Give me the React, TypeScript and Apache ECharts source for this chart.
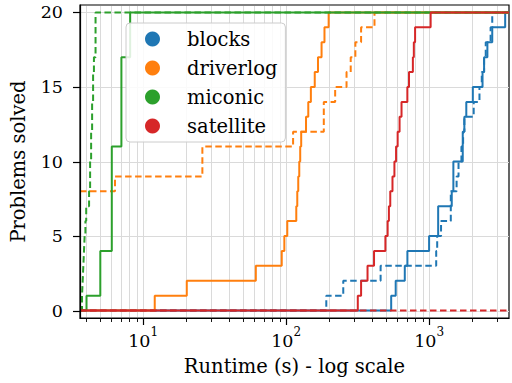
import React, { useEffect, useRef } from "react";
import * as echarts from "echarts";

const FONT = "'DejaVu Serif', serif";
const X_MIN = 3.62;
const X_MAX = 3620;
const Y_MIN = -0.5;
const Y_MAX = 20.5;

const domains = ["blocks", "driverlog", "miconic", "satellite"];
const colors = ["#1f77b4", "#ff7f0e", "#2ca02c", "#d62728"];

// x gridline / tick positions (log scale)
const xMajorTicks = [10, 100, 1000];
const xMinorTicks = [4, 5, 6, 7, 8, 9, 20, 30, 40, 50, 60, 70, 80, 90, 200, 300, 400, 500, 600, 700, 800, 900, 2000, 3000];
const yTicks = [0, 5, 10, 15, 20];

// blocks
const blocksSolidTime = [543, 584, 676, 705, 1000, 1157, 1440, 1478, 1719, 1764, 1820, 2022, 2364, 2424, 2556, 2764, 3404];
const blocksSolidCount = [1, 2, 3, 4, 5, 7, 8, 10, 12, 13, 14, 15, 16, 17, 18, 19, 20];
const blocksDashedTime = [191, 251, 458, 1121, 1139, 1212, 1418, 1557, 1606, 1683, 1729, 1764, 2050, 2250, 2335, 2424, 2489, 2692, 2764];
const blocksDashedCount = [1, 2, 3, 4, 5, 6, 8, 9, 10, 11, 12, 13, 14, 15, 16, 17, 18, 19, 20];

// driverlog
const driverlogSolidTime = [12.06, 20.2, 61.4, 93.2, 97.2, 101.9, 117.8, 119.7, 121.6, 123.6, 125.5, 127.5, 137.8, 142.9, 149.0, 158.6, 167.1, 177.0, 185.5, 198.4];
const driverlogSolidCount = [1, 2, 3, 4, 5, 6, 7, 8, 9, 10, 11, 12, 13, 14, 15, 16, 17, 18, 19, 20];
const driverlogDashedStart = 8;
const driverlogDashedTime = [6.36, 25.97, 111.9, 183.5, 220.3, 264.6, 283, 305, 334.5, 415];
const driverlogDashedCount = [9, 11, 12, 14, 15, 16, 17, 18, 19, 20];

// miconic
const miconicSolidTime = [4.02, 5.02, 6.04, 7.05, 8.12];
const miconicSolidCount = [1, 4, 11, 17, 20];
const miconicDashedTime = [3.74, 3.78, 3.82, 3.86, 3.9, 3.95, 4.0, 4.19, 4.26, 4.33, 4.4, 4.47, 4.53, 4.65];
const miconicDashedCount = [1, 2, 3, 4, 5, 6, 7, 8, 10, 12, 14, 16, 17, 20];

// satellite
const satelliteSolidTime = [317.2, 334.5, 371, 412, 494.7, 512.9, 523.4, 535, 554.5, 572, 587.5, 602.6, 621.6, 641.4, 704.5, 723.5, 770, 782, 798, 1025];
const satelliteSolidCount = [1, 2, 3, 4, 5, 6, 7, 8, 9, 10, 11, 12, 13, 14, 15, 16, 17, 18, 19, 20];
const satelliteDashedTime: number[] = [];
const satelliteDashedCount: number[] = [];

function steps(times: number[], counts: number[], start = 0) {
  const pts: number[][] = [[X_MIN, start]];
  times.forEach((t, i) => pts.push([t, counts[i]]));
  const last = counts.length ? counts[counts.length - 1] : start;
  pts.push([X_MAX, last]);
  return pts;
}

const runs = [
  { d: 0, solid: steps(blocksSolidTime, blocksSolidCount), dashed: steps(blocksDashedTime, blocksDashedCount) },
  { d: 1, solid: steps(driverlogSolidTime, driverlogSolidCount), dashed: steps(driverlogDashedTime, driverlogDashedCount, driverlogDashedStart) },
  { d: 2, solid: steps(miconicSolidTime, miconicSolidCount), dashed: steps(miconicDashedTime, miconicDashedCount) },
  { d: 3, solid: steps(satelliteSolidTime, satelliteSolidCount), dashed: steps(satelliteDashedTime, satelliteDashedCount) },
];

export default function App() {
  const ref = useRef<HTMLDivElement>(null);
  useEffect(() => {
    if (!ref.current) return;
    const chart = echarts.init(ref.current, null, { renderer: "svg" });

    const lineSeries: any[] = [];
    runs.forEach((r) => {
      [false, true].forEach((dashed) => {
        lineSeries.push({
          type: "line",
          name: domains[r.d],
          data: dashed ? r.dashed : r.solid,
          step: "end",
          symbol: "none",
          color: colors[r.d],
          lineStyle: { color: colors[r.d], width: 2, type: dashed ? [6.5, 3.5] : "solid" },
          emphasis: { disabled: true },
          silent: true,
          z: 3,
        });
      });
    });

    const xGridData = [
      ...xMajorTicks.map((v) => [v, 1]),
      ...xMinorTicks.map((v) => [v, 0]),
    ];

    const option: any = {
      animation: false,
      backgroundColor: "#fff",
      grid: {
        left: 72,
        top: 5,
        width: 442,
        height: 313,
        show: true,
        borderColor: "#000",
        borderWidth: 1.2,
      },
      legend: {
        data: domains.map((name) => ({ name, icon: "circle" })),
        orient: "vertical",
        left: 126,
        top: 23,
        padding: [6, 8, 6, 19],
        itemWidth: 15,
        itemHeight: 15,
        itemGap: 9,
        selectedMode: false,
        backgroundColor: "rgba(255,255,255,0.85)",
        borderColor: "#cccccc",
        borderWidth: 1,
        borderRadius: 4,
        itemStyle: { borderWidth: 0 },
        textStyle: {
          fontFamily: FONT,
          fontSize: 19.5,
          lineHeight: 20,
          color: "#000",
          padding: [0, 0, 0, 22],
        },
        z: 10,
      },
      xAxis: {
        type: "log",
        logBase: 10,
        min: X_MIN,
        max: X_MAX,
        z: 5,
        axisLine: { onZero: false, lineStyle: { color: "#000", width: 1.2 } },
        axisTick: { show: false },
        splitLine: { show: false },
        axisLabel: {
          margin: 8,
          formatter: (v: number) => {
            const e = Math.log10(v);
            const r = Math.round(e);
            return Math.abs(e - r) < 1e-6 ? `{b|10}{s|${r}}` : "";
          },
          rich: {
            b: { fontFamily: FONT, fontSize: 17.5, color: "#000", verticalAlign: "bottom", lineHeight: 24 },
            s: { fontFamily: FONT, fontSize: 12, color: "#000", verticalAlign: "top", lineHeight: 24 },
          },
        },
        name: "Runtime (s) - log scale",
        nameLocation: "middle",
        nameGap: 38,
        nameTextStyle: { fontFamily: FONT, fontSize: 19.5, color: "#000" },
      },
      yAxis: {
        type: "value",
        min: Y_MIN,
        max: Y_MAX,
        splitNumber: 5,
        z: 5,
        axisLine: { show: true, onZero: false, lineStyle: { color: "#000", width: 1.2 } },
        axisTick: { show: false },
        splitLine: { show: false },
        axisLabel: {
          margin: 17,
          fontFamily: FONT,
          fontSize: 17.5,
          color: "#000",
          formatter: (v: number) => (Math.abs(v % 5) < 1e-9 ? String(Math.round(v) + 0) : ""),
        },
        name: "Problems solved",
        nameLocation: "middle",
        nameGap: 52,
        nameTextStyle: { fontFamily: FONT, fontSize: 19.5, color: "#000" },
      },
      series: [
        {
          type: "custom",
          name: "xgrid",
          silent: true,
          clip: false,
          z: 1,
          data: xGridData,
          renderItem: (params: any, api: any) => {
            const v = api.value(0);
            const major = api.value(1) === 1;
            const top = api.coord([v, Y_MAX]);
            const bot = api.coord([v, Y_MIN]);
            const x = Math.round(top[0]) + 0.5;
            return {
              type: "group",
              children: [
                { type: "line", shape: { x1: x, y1: top[1] + 1, x2: x, y2: bot[1] - 1 }, style: { stroke: "#dadada", lineWidth: 1 } },
                { type: "line", shape: { x1: x, y1: bot[1], x2: x, y2: bot[1] + (major ? 7 : 4) }, style: { stroke: "#000", lineWidth: major ? 1.2 : 0.9 } },
              ],
            };
          },
        },
        {
          type: "custom",
          name: "ygrid",
          silent: true,
          clip: false,
          z: 1,
          data: yTicks.map((v) => [X_MIN, v]),
          renderItem: (params: any, api: any) => {
            const v = api.value(1);
            const l = api.coord([X_MIN, v]);
            const r = api.coord([X_MAX, v]);
            const y = Math.round(l[1]) + 0.5;
            return {
              type: "group",
              children: [
                { type: "line", shape: { x1: l[0] + 1, y1: y, x2: r[0], y2: y }, style: { stroke: "#dadada", lineWidth: 1 } },
                { type: "line", shape: { x1: l[0] - 7, y1: y, x2: l[0], y2: y }, style: { stroke: "#000", lineWidth: 1.2 } },
              ],
            };
          },
        },
        ...lineSeries,
      ],
    };
    chart.setOption(option);
    return () => chart.dispose();
  }, []);

  return (
    <div
      ref={ref}
      style={{ position: "absolute", left: 0, top: 0, width: 512, height: 383, background: "#fff" }}
    />
  );
}
